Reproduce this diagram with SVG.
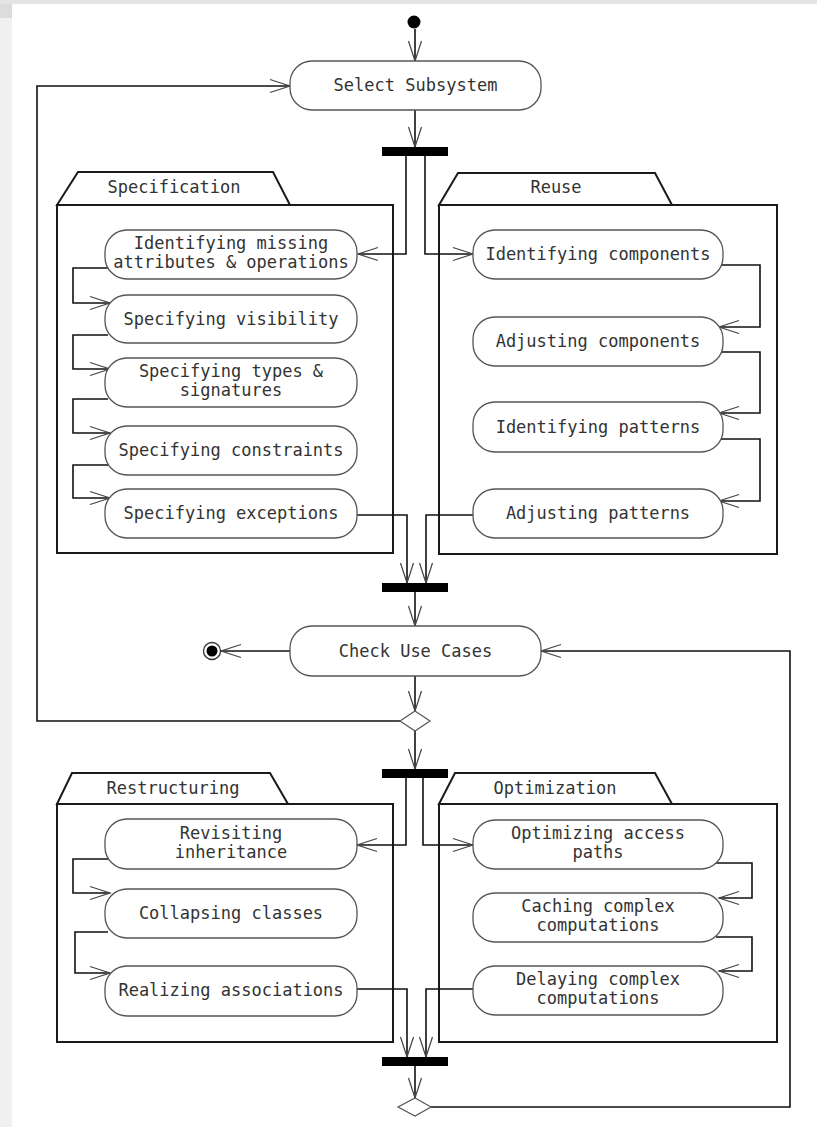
<svg xmlns="http://www.w3.org/2000/svg" width="817" height="1127" viewBox="0 0 817 1127">
  <style>
    .node rect.act { fill: #fff; stroke: #555; stroke-width: 1.3; }
    .lbl { font-family: "DejaVu Sans Mono", "Liberation Mono", monospace; font-size: 17px; fill: #333; text-anchor: middle; }
    .pkg { fill: #fff; stroke: #1a1a1a; stroke-width: 2; }
    .bar { fill: #000; }
    .edge { fill: none; stroke: #111; stroke-width: 1.6; marker-end: url(#arr); }
  </style>
  <defs>
    <marker id="arr" markerUnits="userSpaceOnUse" markerWidth="26" markerHeight="18" viewBox="-23 -9 26 18" refX="0" refY="0" orient="auto">
      <path d="M-20,-6.5 L0,0 L-20,6.5" fill="none" stroke="#444" stroke-width="1.2"/>
    </marker>
  </defs>

  <!-- page margin -->
  <rect x="0" y="0" width="817" height="1127" fill="#fff"/>
  <rect x="0" y="0" width="817" height="4" fill="#e4e4e4"/>
  <rect x="0" y="4" width="12" height="14" fill="#dcdcdc"/>
  <rect x="0" y="18" width="12" height="1109" fill="#f0f0f0"/>

  <!-- packages -->
  <g id="pkg-specification">
    <polygon class="pkg" points="57,205 78,172 273,172 290,205"/>
    <rect class="pkg" x="57" y="205" width="336" height="348"/>
    <text class="lbl" x="174" y="193">Specification</text>
  </g>
  <g id="pkg-reuse">
    <polygon class="pkg" points="439,205 458,173 655,173 672,205"/>
    <rect class="pkg" x="439" y="205" width="338" height="349"/>
    <text class="lbl" x="556" y="193">Reuse</text>
  </g>
  <g id="pkg-restructuring">
    <polygon class="pkg" points="57,804 72,773 270,773 288,804"/>
    <rect class="pkg" x="57" y="804" width="336" height="238"/>
    <text class="lbl" x="173" y="794">Restructuring</text>
  </g>
  <g id="pkg-optimization">
    <polygon class="pkg" points="439,804 455,773 655,773 672,804"/>
    <rect class="pkg" x="439" y="804" width="338" height="238"/>
    <text class="lbl" x="555" y="794">Optimization</text>
  </g>

  <!-- connectors -->
  <g id="connectors">
    <path class="edge" d="M415,29 V61"/>
    <path class="edge" d="M415,110 V147"/>
    <path class="edge" d="M406,156 V254 H358"/>
    <path class="edge" d="M425,156 V254 H473"/>
    <path class="edge" d="M108,268 H73 V303 H110"/>
    <path class="edge" d="M108,335 H73 V369 H110"/>
    <path class="edge" d="M108,399 H73 V433 H110"/>
    <path class="edge" d="M108,465 H73 V498 H110"/>
    <path class="edge" d="M720,265 H760 V327 H719"/>
    <path class="edge" d="M720,352 H760 V413 H719"/>
    <path class="edge" d="M720,439 H760 V501 H719"/>
    <path class="edge" d="M357,515 H407 V583"/>
    <path class="edge" d="M473,515 H426 V583"/>
    <path class="edge" d="M415,592 V626"/>
    <path class="edge" d="M290,651 H221"/>
    <path class="edge" d="M415,676 V711"/>
    <path class="edge" d="M400,721 H37 V86 H290"/>
    <path class="edge" d="M415,731 V769"/>
    <path class="edge" d="M406,778 V845 H357"/>
    <path class="edge" d="M423,778 V845 H473"/>
    <path class="edge" d="M108,859 H73 V893 H110"/>
    <path class="edge" d="M108,932 H75 V973 H110"/>
    <path class="edge" d="M716,863 H752 V898 H719"/>
    <path class="edge" d="M716,937 H752 V971 H719"/>
    <path class="edge" d="M357,989 H407 V1057"/>
    <path class="edge" d="M473,989 H426 V1057"/>
    <path class="edge" d="M415,1066 V1098"/>
    <path class="edge" d="M431,1107 H790 V651 H541"/>
  </g>

  <!-- control nodes -->
  <g id="start"><circle cx="414" cy="22" r="6.5" fill="#000"/></g>
  <g id="end">
    <circle cx="212" cy="651" r="8.5" fill="#fff" stroke="#333" stroke-width="1.3"/>
    <circle cx="212" cy="651" r="5.5" fill="#000"/>
  </g>
  <g id="fork-1"><rect class="bar" x="382" y="147" width="66" height="9"/></g>
  <g id="join-1"><rect class="bar" x="382" y="583" width="66" height="9"/></g>
  <g id="fork-2"><rect class="bar" x="382" y="769" width="66" height="9"/></g>
  <g id="join-2"><rect class="bar" x="382" y="1057" width="66" height="9"/></g>
  <g id="decision-1"><polygon points="415,711 430,721 415,731 400,721" fill="#fff" stroke="#555" stroke-width="1.2"/></g>
  <g id="decision-2"><polygon points="415,1098 431,1107 415,1116 398,1107" fill="#fff" stroke="#555" stroke-width="1.2"/></g>

  <!-- activities -->
  <g id="select-subsystem" class="node">
    <rect class="act" x="290" y="61" width="251" height="49" rx="22"/>
    <text class="lbl" x="415.5" y="91">Select Subsystem</text>
  </g>
  <g id="check-use-cases" class="node">
    <rect class="act" x="290" y="626" width="251" height="50" rx="22"/>
    <text class="lbl" x="415.5" y="657">Check Use Cases</text>
  </g>

  <g id="identify-missing" class="node">
    <rect class="act" x="105" y="230" width="252" height="49" rx="22"/>
    <text class="lbl" x="231"><tspan x="231" y="249">Identifying missing</tspan><tspan x="231" y="268">attributes &amp; operations</tspan></text>
  </g>
  <g id="spec-visibility" class="node">
    <rect class="act" x="105" y="295" width="252" height="48" rx="22"/>
    <text class="lbl" x="231" y="325">Specifying visibility</text>
  </g>
  <g id="spec-types" class="node">
    <rect class="act" x="105" y="358" width="252" height="49" rx="22"/>
    <text class="lbl" x="231"><tspan x="231" y="377">Specifying types &amp;</tspan><tspan x="231" y="396">signatures</tspan></text>
  </g>
  <g id="spec-constraints" class="node">
    <rect class="act" x="105" y="426" width="252" height="49" rx="22"/>
    <text class="lbl" x="231" y="456">Specifying constraints</text>
  </g>
  <g id="spec-exceptions" class="node">
    <rect class="act" x="105" y="489" width="252" height="49" rx="22"/>
    <text class="lbl" x="231" y="519">Specifying exceptions</text>
  </g>

  <g id="identify-components" class="node">
    <rect class="act" x="473" y="230" width="250" height="49" rx="22"/>
    <text class="lbl" x="598" y="260">Identifying components</text>
  </g>
  <g id="adjust-components" class="node">
    <rect class="act" x="473" y="317" width="250" height="49" rx="22"/>
    <text class="lbl" x="598" y="347">Adjusting components</text>
  </g>
  <g id="identify-patterns" class="node">
    <rect class="act" x="473" y="402" width="250" height="50" rx="22"/>
    <text class="lbl" x="598" y="433">Identifying patterns</text>
  </g>
  <g id="adjust-patterns" class="node">
    <rect class="act" x="473" y="489" width="250" height="49" rx="22"/>
    <text class="lbl" x="598" y="519">Adjusting patterns</text>
  </g>

  <g id="revisit-inheritance" class="node">
    <rect class="act" x="105" y="819" width="252" height="50" rx="22"/>
    <text class="lbl" x="231"><tspan x="231" y="839">Revisiting</tspan><tspan x="231" y="858">inheritance</tspan></text>
  </g>
  <g id="collapse-classes" class="node">
    <rect class="act" x="105" y="889" width="252" height="49" rx="22"/>
    <text class="lbl" x="231" y="919">Collapsing classes</text>
  </g>
  <g id="realize-associations" class="node">
    <rect class="act" x="105" y="966" width="252" height="50" rx="22"/>
    <text class="lbl" x="231" y="996">Realizing associations</text>
  </g>

  <g id="optimize-paths" class="node">
    <rect class="act" x="473" y="820" width="250" height="49" rx="22"/>
    <text class="lbl" x="598"><tspan x="598" y="839">Optimizing access</tspan><tspan x="598" y="858">paths</tspan></text>
  </g>
  <g id="cache-computations" class="node">
    <rect class="act" x="473" y="893" width="250" height="49" rx="22"/>
    <text class="lbl" x="598"><tspan x="598" y="912">Caching complex</tspan><tspan x="598" y="931">computations</tspan></text>
  </g>
  <g id="delay-computations" class="node">
    <rect class="act" x="473" y="966" width="250" height="49" rx="22"/>
    <text class="lbl" x="598"><tspan x="598" y="985">Delaying complex</tspan><tspan x="598" y="1004">computations</tspan></text>
  </g>
</svg>
